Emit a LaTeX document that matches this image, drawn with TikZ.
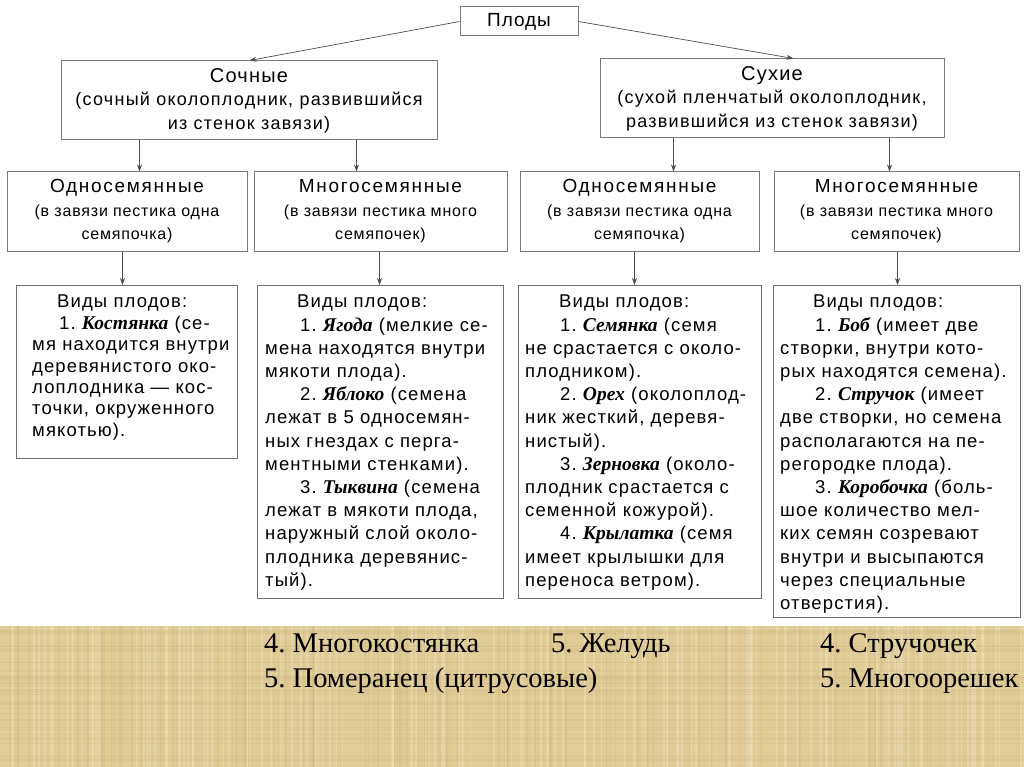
\documentclass[tikz,border=0pt]{standalone}
\usepackage{fontspec}
\setmainfont{Liberation Sans}
\newfontfamily\serifcyr{Liberation Serif}
\newfontfamily\boxfont[LetterSpace=6]{Liberation Sans}
\newfontfamily\headfont[LetterSpace=7]{Liberation Sans}
\newfontfamily\titlefont[LetterSpace=6]{Liberation Sans}
\newfontfamily\rowfont[LetterSpace=5]{Liberation Sans}
\newfontfamily\rowtitlefont[LetterSpace=9]{Liberation Sans}
\newfontfamily\topfont[LetterSpace=5]{Liberation Sans}
\usetikzlibrary{arrows.meta,calc}
\newcommand{\nm}[1]{{\serifcyr\bfseries\itshape\fontsize{19.5}{23.2}\selectfont #1}}
\newcommand{\hd}[1]{{\titlefont\fontsize{20}{23.5}\selectfont #1}}
\newcommand{\rh}[1]{{\rowtitlefont\fontsize{19}{23.5}\selectfont #1}}
\definecolor{bandcol}{HTML}{DFCC97}
\definecolor{bandlight}{HTML}{EDE0B8}
\definecolor{banddark}{HTML}{CBB27A}
\definecolor{boxline}{HTML}{7A7A7A}
\frenchspacing
\begin{document}
\begin{tikzpicture}[x=1pt,y=-1pt,
  box/.style={draw=boxline, line width=1pt, fill=white, inner sep=0pt, align=center},
  headtxt/.style={font=\headfont\fontsize{18}{23.5}\selectfont},
  rowtxt/.style={font=\rowfont\fontsize{16}{23.5}\selectfont},
  vbox/.style={draw=boxline!90!black, line width=1.1pt, fill=white, inner sep=0pt, anchor=north west},
  vtxt/.style={inner sep=0pt, anchor=north west, align=left, font=\boxfont\fontsize{18.5}{23.2}\selectfont},
  arr/.style={draw=black!70, line width=0.7pt, -{Stealth[length=7pt,width=5pt]}},
  btxt/.style={inner sep=0pt, anchor=base west, font=\serifcyr\fontsize{28.5}{32}\selectfont}]
\useasboundingbox (0,0) rectangle (1024,767);
\fill[white] (0,0) rectangle (1024,767);
% textured band
\fill[bandcol] (0,626) rectangle (1024,767);
\pgfmathsetseed{11}
\foreach \i in {1,...,170}{
  \pgfmathsetmacro\xx{random(0,1024)}
  \pgfmathsetmacro\ww{0.4+2.2*rnd}
  \draw[bandlight, opacity=0.5, line width=\ww pt] (\xx,626) -- (\xx,767);
}
\foreach \i in {1,...,110}{
  \pgfmathsetmacro\xx{random(0,1024)}
  \pgfmathsetmacro\ww{0.4+1.3*rnd}
  \draw[banddark, opacity=0.25, line width=\ww pt] (\xx,626) -- (\xx,767);
}
\foreach \i in {1,...,40}{
  \pgfmathsetmacro\yy{random(627,766)}
  \pgfmathsetmacro\ww{0.4+1.2*rnd}
  \draw[banddark, opacity=0.2, line width=\ww pt] (0,\yy) -- (1024,\yy);
}
% top
\node[box, minimum width=118pt, minimum height=29pt, font=\topfont\fontsize{19}{20}\selectfont] (plody) at (519,21.5) {Плоды};
\node[box, minimum width=376pt, minimum height=79pt, headtxt] (soch) at (249,100.5)
  {\hd{Сочные}\\(сочный околоплодник, развившийся\\из стенок завязи)};
\node[box, minimum width=344pt, minimum height=79pt, headtxt] (suh) at (772,98.5)
  {\hd{Сухие}\\(сухой пленчатый околоплодник,\\развившийся из стенок завязи)};
% row 2
\node[box, minimum width=240pt, minimum height=79pt, rowtxt] (od1) at (127,211.5)
  {\rh{Односемянные}\\(в завязи пестика одна\\семяпочка)};
\node[box, minimum width=253pt, minimum height=79pt, rowtxt] (mn1) at (380.5,211.5)
  {\rh{Многосемянные}\\(в завязи пестика много\\семяпочек)};
\node[box, minimum width=239pt, minimum height=79pt, rowtxt] (od2) at (639.5,211.5)
  {\rh{Односемянные}\\(в завязи пестика одна\\семяпочка)};
\node[box, minimum width=245pt, minimum height=79pt, rowtxt] (mn2) at (896.5,211.5)
  {\rh{Многосемянные}\\(в завязи пестика много\\семяпочек)};
% row 3 boxes
\node[vbox, minimum width=221pt, minimum height=173pt] (v1) at (16,285) {};
\node[vbox, minimum width=246pt, minimum height=313pt] (v2) at (257,285) {};
\node[vbox, minimum width=243pt, minimum height=313pt] (v3) at (518,285) {};
\node[vbox, minimum width=247pt, minimum height=332pt] (v4) at (773,285) {};
% row 3 texts
\node[vtxt, font=\boxfont\fontsize{18.5}{21.4}\selectfont] (t1) at ([xshift=16pt,yshift=-10pt]v1.north west) {%
\hspace*{25pt}Виды плодов:\\
\hspace*{27pt}1. \nm{Костянка} (се-\\
мя находится внутри\\
деревянистого око-\\
лоплодника — кос-\\
точки, окруженного\\
мякотью).};
\node[vtxt] (t2) at ([xshift=8pt,yshift=-10pt]v2.north west) {%
\hspace*{32pt}Виды плодов:\\
\hspace*{35pt}1. \nm{Ягода} (мелкие се-\\
мена находятся внутри\\
мякоти плода).\\
\hspace*{35pt}2. \nm{Яблоко} (семена\\
лежат в 5 односемян-\\
ных гнездах с перга-\\
ментными стенками).\\
\hspace*{35pt}3. \nm{Тыквина} (семена\\
лежат в мякоти плода,\\
наружный слой около-\\
плодника деревянис-\\
тый).};
\node[vtxt] (t3) at ([xshift=7pt,yshift=-10pt]v3.north west) {%
\hspace*{34pt}Виды плодов:\\
\hspace*{35pt}1. \nm{Семянка} (семя\\
не срастается с около-\\
плодником).\\
\hspace*{35pt}2. \nm{Орех} (околоплод-\\
ник жесткий, деревя-\\
нистый).\\
\hspace*{35pt}3. \nm{Зерновка} (около-\\
плодник срастается с\\
семенной кожурой).\\
\hspace*{35pt}4. \nm{Крылатка} (семя\\
имеет крылышки для\\
переноса ветром).};
\node[vtxt] (t4) at ([xshift=7pt,yshift=-10pt]v4.north west) {%
\hspace*{33pt}Виды плодов:\\
\hspace*{35pt}1. \nm{Боб} (имеет две\\
створки, внутри кото-\\
рых находятся семена).\\
\hspace*{35pt}2. \nm{Стручок} (имеет\\
две створки, но семена\\
располагаются на пе-\\
регородке плода).\\
\hspace*{35pt}3. \nm{Коробочка} (боль-\\
шое количество мел-\\
ких семян созревают\\
внутри и высыпаются\\
через специальные\\
отверстия).};
% arrows
\coordinate (p1) at ([xshift=189pt]soch.north west);
\coordinate (p2) at ([xshift=194pt]suh.north west);
\draw[arr] (plody.west) -- (p1);
\draw[arr] (plody.east) -- (p2);
\coordinate (a1) at ([xshift=79pt]soch.south west);
\coordinate (a2) at ([xshift=296pt]soch.south west);
\coordinate (a3) at ([xshift=74pt]suh.south west);
\coordinate (a4) at ([xshift=290pt]suh.south west);
\draw[arr] (a1) -- (a1 |- od1.north);
\draw[arr] (a2) -- (a2 |- mn1.north);
\draw[arr] (a3) -- (a3 |- od2.north);
\draw[arr] (a4) -- (a4 |- mn2.north);
\coordinate (b1) at ([xshift=116pt]od1.south west);
\coordinate (b2) at ([xshift=126pt]mn1.south west);
\coordinate (b3) at ([xshift=115pt]od2.south west);
\coordinate (b4) at ([xshift=124pt]mn2.south west);
\draw[arr] (b1) -- (b1 |- v1.north);
\draw[arr] (b2) -- (b2 |- v2.north);
\draw[arr] (b3) -- (b3 |- v3.north);
\draw[arr] (b4) -- (b4 |- v4.north);
% bottom texts
\node[btxt] (l1) at (264,652) {4. Многокостянка};
\node[btxt] (l2) at (551,652) {5. Желудь};
\node[btxt] (l3) at (820,652) {4. Стручочек};
\node[btxt] (l4) at (264,687) {5. Померанец (цитрусовые)};
\node[btxt] (l5) at (820,687) {5. Многоорешек};
\end{tikzpicture}
\end{document}
